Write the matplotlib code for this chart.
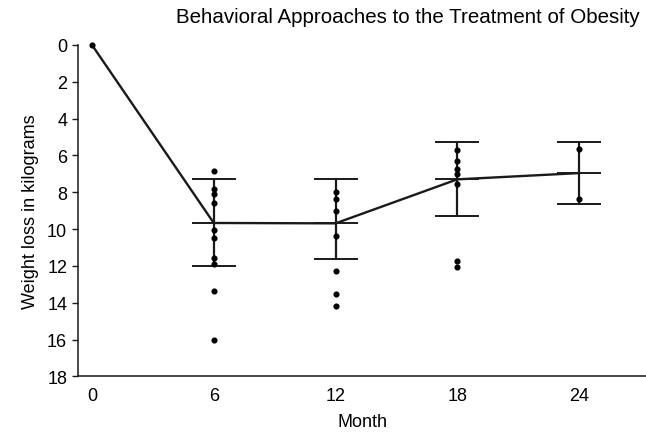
import matplotlib.pyplot as plt
import numpy as np

plt.rcParams['font.family'] = ['Liberation Sans', 'DejaVu Sans']

# data
months = [0, 6, 12, 18, 24]
mean_loss = [0.0, 9.67, 9.69, 7.30, 6.96]
upper_bound = [np.nan, 7.30, 7.30, 5.26, 5.26]   # smaller loss (top of bar)
lower_bound = [np.nan, 11.98, 11.62, 9.31, 8.66]  # larger loss (bottom of bar)

pts_0 = [0.0]
pts_6 = [6.85, 7.81, 8.12, 8.57, 10.03, 10.48, 11.57, 11.88, 13.34, 16.01]
pts_12 = [7.99, 8.37, 9.00, 10.37, 12.26, 13.52, 14.19]
pts_18 = [5.71, 6.29, 6.72, 7.00, 7.56, 11.75, 12.06]
pts_24 = [5.64, 8.39]

x_ticks = [0, 6, 12, 18, 24]
y_ticks = [0, 2, 4, 6, 8, 10, 12, 14, 16, 18]

ink = '#1a1a1a'

fig = plt.figure(figsize=(6.46, 4.35), dpi=100)
ax = fig.add_axes([0.1212, 0.1326, 0.8788, 0.7617])

# error bars (no bar at month 0)
m_eb = np.array(months[1:])
mu = np.array(mean_loss[1:])
yerr = [mu - np.array(upper_bound[1:]), np.array(lower_bound[1:]) - mu]
ax.errorbar(m_eb, mu, yerr=yerr, fmt='none', ecolor=ink, elinewidth=1.6,
            capsize=16, capthick=1.4, zorder=2)
# mean tick markers, same width as caps
ax.plot(m_eb, mu, linestyle='none', marker='_', markersize=32,
        markeredgewidth=1.4, color=ink, zorder=2)

# line through the means
ax.plot(months, mean_loss, color=ink, linewidth=1.7, zorder=3, clip_on=False)

# individual subjects
for m, pts in zip(months, [pts_0, pts_6, pts_12, pts_18, pts_24]):
    ax.plot([m] * len(pts), pts, linestyle='none', marker='o',
            markersize=3.4, color='black', zorder=4, clip_on=False)

ax.set_xlim(-0.675, 27.3)
ax.set_ylim(18, 0)
ax.set_xticks(x_ticks)
ax.set_yticks(y_ticks)
ax.tick_params(axis='x', length=0, pad=8, labelsize=13)
ax.tick_params(axis='y', length=4.5, width=1, pad=3.5, labelsize=13, color=ink)

for s in ['top', 'right']:
    ax.spines[s].set_visible(False)
for s in ['left', 'bottom']:
    ax.spines[s].set_color(ink)
    ax.spines[s].set_linewidth(1.1)

ax.set_xlabel('Month', fontsize=13, labelpad=6)
ax.set_ylabel('Weight loss in kilograms', fontsize=13, labelpad=6)

fig.text(0.631, 0.948, 'Behavioral Approaches to the Treatment of Obesity',
         ha='center', va='baseline', fontsize=14.8)

fig.savefig('out.png', dpi=100)
